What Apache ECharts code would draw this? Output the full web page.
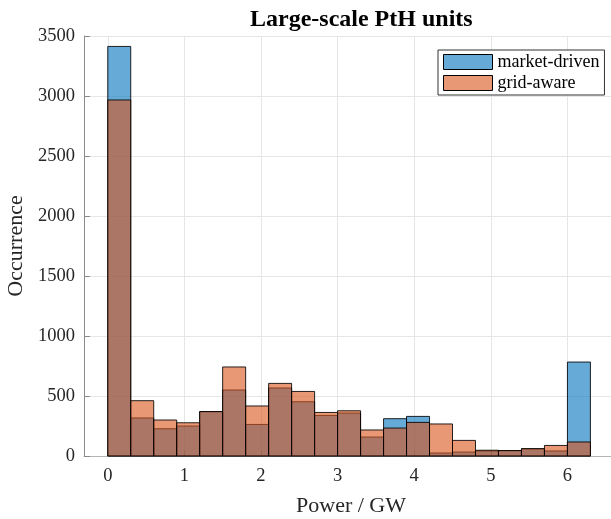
<!DOCTYPE html>
<html>
<head>
<meta charset="utf-8">
<script src="https://cdn.jsdelivr.net/npm/echarts@6/dist/echarts.min.js"></script>
<style>
html, body { margin: 0; padding: 0; background: #fff; }
#main { width: 611px; height: 519px; }
</style>
</head>
<body>
<div id="main"></div>
<script>
// histogram bins (left edge, GW), width 0.3
var binStarts = [0, 0.3, 0.6, 0.9, 1.2, 1.5, 1.8, 2.1, 2.4, 2.7, 3.0, 3.3, 3.6, 3.9, 4.2, 4.5, 4.8, 5.1, 5.4, 5.7, 6.0];
var binWidth = 0.3;
var marketDriven = [3413, 317, 227, 250, 370, 550, 263, 567, 452, 338, 358, 158, 311, 330, 25, 33, 42, 45, 58, 42, 783];
var gridAware = [2967, 461, 300, 277, 370, 742, 417, 605, 538, 363, 377, 217, 233, 280, 267, 130, 48, 45, 62, 88, 117];
var xTicks = [0, 1, 2, 3, 4, 5, 6];

var blue = 'rgba(0,114,189,0.6)';
var orange = 'rgba(217,83,25,0.6)';
var font = 'Liberation Serif';

function toRows(vals) {
    return vals.map(function (v, i) {
        return [binStarts[i], binStarts[i] + binWidth, v];
    });
}

function barRenderer(fill) {
    return function (params, api) {
        var top = api.coord([api.value(0), api.value(2)]);
        var bot = api.coord([api.value(1), 0]);
        return {
            type: 'rect',
            shape: { x: top[0], y: top[1], width: bot[0] - top[0], height: bot[1] - top[1] },
            style: { fill: fill, stroke: 'rgba(0,0,0,0.85)', lineWidth: 1 }
        };
    };
}

var myChart = echarts.init(document.getElementById('main'));
var option = {
    animation: false,
    title: {
        text: 'Large-scale PtH units',
        left: 245,
        top: 3,
        textStyle: { fontFamily: font, fontSize: 24, fontWeight: 'bold', color: '#000' }
    },
    legend: {
        left: 438,
        top: 50,
        orient: 'vertical',
        itemWidth: 49,
        itemHeight: 15,
        itemGap: 3,
        padding: [3, 5, 3, 5],
        backgroundColor: '#fff',
        borderColor: '#333',
        borderWidth: 1,
        textStyle: { fontFamily: font, fontSize: 18, color: '#000' },
        data: [
            { name: 'market-driven', icon: 'rect', itemStyle: { color: blue, borderColor: '#000', borderWidth: 1 } },
            { name: 'grid-aware', icon: 'rect', itemStyle: { color: orange, borderColor: '#000', borderWidth: 1 } }
        ]
    },
    grid: { left: 84, right: -7, top: 36, bottom: 63, outerBoundsMode: 'none', containLabel: false },
    xAxis: {
        type: 'value',
        min: -0.31,
        max: 6.66,
        name: 'Power / GW',
        nameLocation: 'middle',
        nameGap: 39,
        nameTextStyle: { fontFamily: font, fontSize: 22, color: '#262626' },
        axisLine: { show: true, onZero: false, lineStyle: { color: '#b5b5b5', width: 1 } },
        axisTick: { show: true, inside: true, length: 5, customValues: xTicks, lineStyle: { color: '#999' } },
        axisLabel: { customValues: xTicks, fontFamily: font, fontSize: 18.5, color: '#262626', margin: 11 },
        splitLine: { show: true, lineStyle: { color: '#e6e6e6', width: 1 } }
    },
    yAxis: {
        type: 'value',
        min: 0,
        max: 3500,
        interval: 500,
        name: 'Occurrence',
        nameLocation: 'middle',
        nameGap: 57,
        nameTextStyle: { fontFamily: font, fontSize: 22, color: '#262626' },
        axisLine: { show: true, onZero: false, lineStyle: { color: '#8a8a8a', width: 1 } },
        axisTick: { show: true, inside: true, length: 6, lineStyle: { color: '#8a8a8a' } },
        axisLabel: { fontFamily: font, fontSize: 18.5, color: '#262626', margin: 9, padding: [5, 0, 0, 0], formatter: function (v) { return String(v); } },
        splitLine: { show: true, lineStyle: { color: '#e6e6e6', width: 1 } }
    },
    series: [
        {
            name: 'market-driven',
            type: 'custom',
            renderItem: barRenderer(blue),
            itemStyle: { color: blue },
            encode: { x: [0, 1], y: 2 },
            data: toRows(marketDriven)
        },
        {
            name: 'grid-aware',
            type: 'custom',
            renderItem: barRenderer(orange),
            itemStyle: { color: orange },
            encode: { x: [0, 1], y: 2 },
            data: toRows(gridAware)
        }
    ]
};
myChart.setOption(option);
</script>
</body>
</html>
